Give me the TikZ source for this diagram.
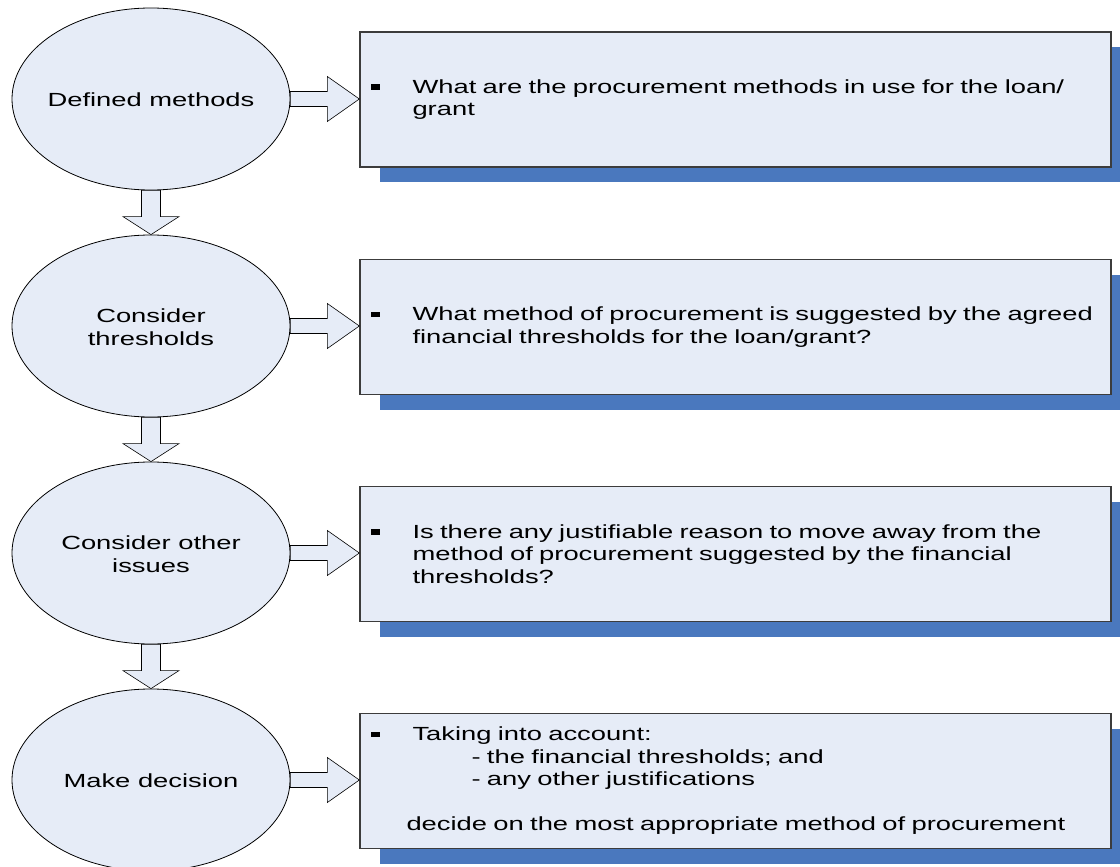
\documentclass[tikz,border=0pt]{standalone}
\usepackage{fontspec}
\setmainfont{Liberation Sans}[FakeStretch=1.44]
\usetikzlibrary{calc,shapes.geometric,shadows}

\definecolor{paleblue}{HTML}{E6ECF7}
\definecolor{shadowblue}{HTML}{4A78BE}
\definecolor{edgegray}{HTML}{3C3C3C}

\tikzset{
  stage/.style={ellipse, draw=black, line width=0.8pt, fill=paleblue,
    minimum width=278pt, minimum height=182pt, inner sep=0pt,
    font=\fontsize{19}{23}\selectfont},
  infobox/.style={rectangle, draw=edgegray, line width=1.3pt, fill=paleblue,
    text width=730pt, inner xsep=10.5pt, minimum height=135pt, align=left,
    font=\fontsize{19}{22.5}\selectfont,
    general shadow={fill=shadowblue, shadow xshift=20pt, shadow yshift=-15pt}},
  blockarrow/.style={draw=black, line width=0.6pt, fill=paleblue, line join=miter},
}

% centred label of zero size, so the ellipse keeps its set size
\newcommand\stagetext[1]{\makebox[0pt]{\raisebox{-7.5pt}[0pt][0pt]{\begin{tabular}{@{}c@{}}#1\end{tabular}}}}

% square bullet followed by the indent of the item text
\newcommand\itemmark{\makebox[42pt][l]{\rule[3.5pt]{9pt}{5.5pt}}}
\newcommand\itemgap{\hspace*{42pt}}

% wide block arrow from the east side of #1 to the west side of #2
\newcommand\rightblock[2]{%
  \path[blockarrow] let \p1=(#1.east), \p2=(#2.west) in
    (\x1,\y1+7.5pt) -- (\x2-32pt,\y1+7.5pt) -- (\x2-32pt,\y1+22.5pt) --
    (\x2,\y1) -- (\x2-32pt,\y1-22.5pt) -- (\x2-32pt,\y1-7.5pt) --
    (\x1,\y1-7.5pt) -- cycle;}

% block arrow pointing down from the bottom of #1 to the top of #2
\newcommand\downblock[2]{%
  \path[blockarrow] let \p1=(#1.south), \p2=(#2.north) in
    (\x1-9.5pt,\y1) -- (\x1-9.5pt,\y2+18pt) -- (\x1-28pt,\y2+18pt) --
    (\x2,\y2) -- (\x1+28pt,\y2+18pt) -- (\x1+9.5pt,\y2+18pt) --
    (\x1+9.5pt,\y1) -- cycle;}

\begin{document}
\begin{tikzpicture}[x=1pt,y=-1pt]
\useasboundingbox (0,0) rectangle (1120,867);

% stages
\node[stage] (e1) at (151,99)  {\stagetext{Defined methods}};
\node[stage] (e2) at (151,326) {\stagetext{Consider\\thresholds}};
\node[stage] (e3) at (151,553) {\stagetext{Consider other\\issues}};
\node[stage] (e4) at (151,780) {\stagetext{Make decision}};

% questions for each stage
\node[infobox] (b1) at (735.5,99.5) {\itemmark What are the procurement methods in use for the loan/\\
  \itemgap grant};
\node[infobox] (b2) at (735.5,327) {\itemmark What method of procurement is suggested by the agreed\\
  \itemgap financial thresholds for the loan/grant?};
\node[infobox] (b3) at (735.5,554) {\itemmark Is there any justifiable reason to move away from the\\
  \itemgap method of procurement suggested by the financial\\
  \itemgap thresholds?};
\node[infobox] (b4) at (735.5,781) {\itemmark Taking into account:\\
  \hspace*{101pt}- the financial thresholds; and\\
  \hspace*{101pt}- any other justifications\\[22.5pt]
  \hspace*{36pt}decide on the most appropriate method of procurement};

% flow between stages
\downblock{e1}{e2}
\downblock{e2}{e3}
\downblock{e3}{e4}

% stage to question
\rightblock{e1}{b1}
\rightblock{e2}{b2}
\rightblock{e3}{b3}
\rightblock{e4}{b4}
\end{tikzpicture}
\end{document}
